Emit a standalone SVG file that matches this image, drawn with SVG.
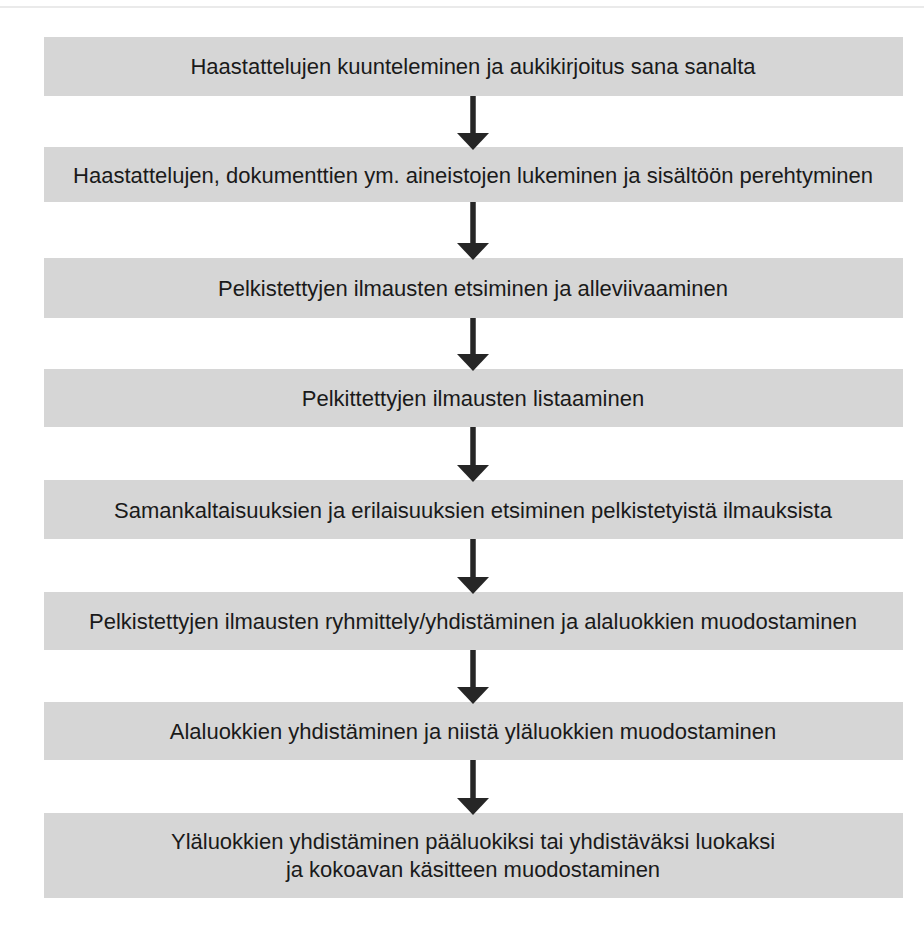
<svg xmlns="http://www.w3.org/2000/svg" width="924" height="927" viewBox="0 0 924 927">
<style>
.box{fill:#d6d6d6;}
.lbl{font-family:"Liberation Sans","Noto Sans",Arial,sans-serif;font-size:22px;fill:#1a1a1a;text-anchor:middle;dominant-baseline:central;}
.conn{stroke:#262626;stroke-width:5.5;fill:none;marker-end:url(#ah);}
</style>
<defs>
<marker id="ah" markerUnits="userSpaceOnUse" markerWidth="18" markerHeight="34" viewBox="0 -17 18 34" refX="0" refY="0" orient="auto">
<path d="M0,-16 L17,0 L0,16 Z" fill="#262626"/>
</marker>
</defs>
<rect x="0" y="0" width="924" height="927" fill="#ffffff"/>
<line x1="0" y1="7" x2="924" y2="7" stroke="#e3e3e3" stroke-width="1.5"/>
<g id="n1"><rect class="box" x="44" y="37" width="859" height="59"/><text class="lbl" x="473" y="66">Haastattelujen kuunteleminen ja aukikirjoitus sana sanalta</text></g>
<g id="n2"><rect class="box" x="44" y="147" width="859" height="55"/><text class="lbl" x="473" y="175">Haastattelujen, dokumenttien ym. aineistojen lukeminen ja sisältöön perehtyminen</text></g>
<g id="n3"><rect class="box" x="44" y="258" width="859" height="60"/><text class="lbl" x="473" y="288">Pelkistettyjen ilmausten etsiminen ja alleviivaaminen</text></g>
<g id="n4"><rect class="box" x="44" y="369" width="859" height="58"/><text class="lbl" x="473" y="398">Pelkittettyjen ilmausten listaaminen</text></g>
<g id="n5"><rect class="box" x="44" y="480" width="859" height="59"/><text class="lbl" x="473" y="510">Samankaltaisuuksien ja erilaisuuksien etsiminen pelkistetyistä ilmauksista</text></g>
<g id="n6"><rect class="box" x="44" y="592" width="859" height="58"/><text class="lbl" x="473" y="621">Pelkistettyjen ilmausten ryhmittely/yhdistäminen ja alaluokkien muodostaminen</text></g>
<g id="n7"><rect class="box" x="44" y="702" width="859" height="58"/><text class="lbl" x="473" y="731">Alaluokkien yhdistäminen ja niistä yläluokkien muodostaminen</text></g>
<g id="n8"><rect class="box" x="44" y="813" width="859" height="85"/><text class="lbl" x="473" y="841">Yläluokkien yhdistäminen pääluokiksi tai yhdistäväksi luokaksi</text><text class="lbl" x="473" y="869">ja kokoavan käsitteen muodostaminen</text></g>
<g id="connectors">
<line class="conn" x1="473" y1="96" x2="473" y2="133"/>
<line class="conn" x1="473" y1="202" x2="473" y2="243"/>
<line class="conn" x1="473" y1="318" x2="473" y2="354"/>
<line class="conn" x1="473" y1="427" x2="473" y2="465"/>
<line class="conn" x1="473" y1="539" x2="473" y2="577"/>
<line class="conn" x1="473" y1="650" x2="473" y2="687"/>
<line class="conn" x1="473" y1="760" x2="473" y2="798"/>
</g>
</svg>
